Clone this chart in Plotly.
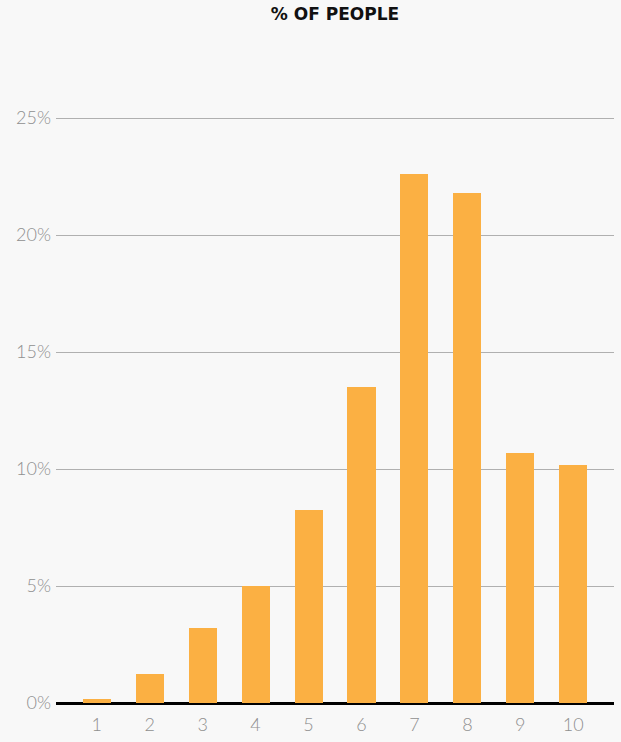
import plotly.graph_objects as go

categories = [1, 2, 3, 4, 5, 6, 7, 8, 9, 10]
percent_people = [0.17, 1.23, 3.22, 4.99, 8.23, 13.5, 22.59, 21.8, 10.68, 10.17]
y_ticks = [0, 5, 10, 15, 20, 25]
y_tick_labels = ["0%", "5%", "10%", "15%", "20%", "25%"]

fig = go.Figure()
fig.add_trace(go.Bar(
    x=categories, y=percent_people,
    marker=dict(color="#FBB043", line=dict(width=0)),
    width=0.53,
))

tick_font = dict(family="Lato", size=18, color="#8f8f8f", weight=300)

fig.update_layout(
    width=621, height=742,
    paper_bgcolor="#F8F8F8", plot_bgcolor="#F8F8F8",
    margin=dict(l=56, r=7, t=93, b=39),
    title=dict(text="<b>% OF PEOPLE</b>", x=0.5, xref="paper", xanchor="center",
               y=0.981, yanchor="middle",
               font=dict(family="DejaVu Sans", size=17, color="#111111")),
    showlegend=False,
    bargap=0,
    xaxis=dict(
        range=[0.23, 10.77], tickmode="array", tickvals=categories,
        ticktext=[str(c) for c in categories],
        showgrid=False, zeroline=False, showline=False,
        tickfont=tick_font, ticks="", ticklen=0, ticklabelstandoff=9,
    ),
    yaxis=dict(
        range=[0, 26.07], tickmode="array", tickvals=y_ticks, ticktext=y_tick_labels,
        showgrid=True, gridcolor="#B0B0B0", gridwidth=1,
        zeroline=True, zerolinecolor="#000000", zerolinewidth=3,
        tickfont=tick_font, ticks="", ticklabelstandoff=4,
    ),
)

fig.write_html("out.html", config={"displayModeBar": False},
               post_script="document.body.style.margin='0';document.body.style.background='#F8F8F8';")
